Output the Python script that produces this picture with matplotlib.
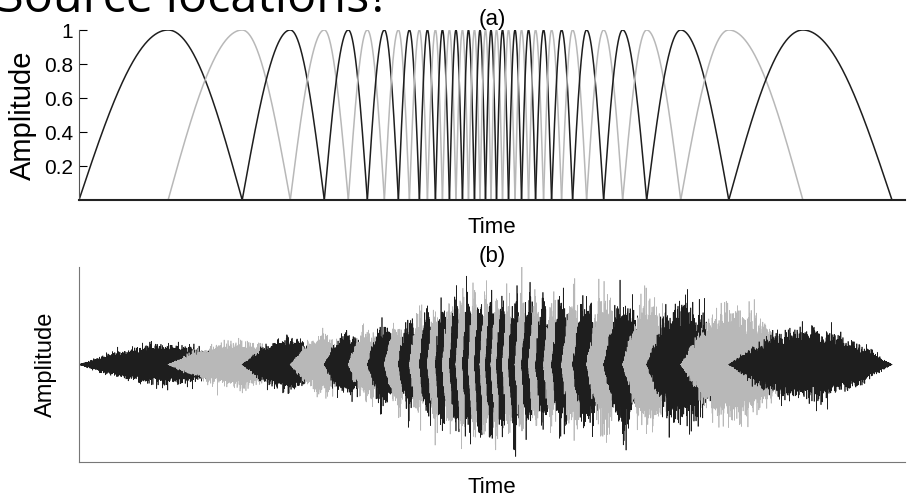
import numpy as np
import matplotlib
matplotlib.use("Agg")
import matplotlib.pyplot as plt

# window edges (time units), left half, mirrored for the right half
edges_left = [0, 89, 163, 211, 245, 269, 288, 305, 319, 330, 340, 348, 356,
              363, 370, 376.5, 383, 389, 395, 400.5, 406]
t_end = 812
edges = edges_left + [t_end - e for e in reversed(edges_left[:-1])]

# peak amplitude of each windowed noise burst in panel (b)
amps = [0.26, 0.30, 0.34, 0.38, 0.42, 0.46, 0.50, 0.56, 0.62, 0.68, 0.74,
        0.80, 0.85, 0.88, 0.92, 0.94, 0.96, 0.98, 0.98, 0.98, 0.98, 0.98,
        0.98, 0.96, 0.95, 0.94, 0.92, 0.90, 0.88, 0.87, 0.86, 0.85, 0.84,
        0.84, 0.82, 0.80, 0.78, 0.72, 0.45]

yticks = [0.2, 0.4, 0.6, 0.8, 1]
ytick_labels = ["0.2", "0.4", "0.6", "0.8", "1"]

col_dark = "#1e1e1e"
col_light = "#b8b8b8"

plt.rcParams["font.family"] = ["Liberation Sans", "DejaVu Sans"]

fig = plt.figure(figsize=(9.14, 4.98), dpi=100)

ax1 = fig.add_axes([79 / 914, 1 - 200 / 498, 826 / 914, 170 / 498])
ax2 = fig.add_axes([79 / 914, 1 - 462 / 498, 826 / 914, 195 / 498])


def window(t, a, b, c):
    w = np.zeros_like(t)
    up = (t >= a) & (t <= b)
    dn = (t > b) & (t <= c)
    w[up] = np.sin(0.5 * np.pi * (t[up] - a) / (b - a))
    w[dn] = np.cos(0.5 * np.pi * (t[dn] - b) / (c - b))
    return w


# carrier components for the noise-like bursts
freqs = [1.37, 2.91, 4.23, 5.77, 7.19, 8.53, 10.07, 11.61, 13.39, 15.13,
         17.03, 19.21, 21.47, 23.83, 26.29]
norm = 3.2 * np.sqrt(len(freqs) / 2)

for k in range(len(edges) - 2):
    a, b, c = edges[k], edges[k + 1], edges[k + 2]
    col = col_dark if k % 2 == 0 else col_light

    # panel (a): the window itself
    t = np.linspace(a, c, 400)
    ax1.plot(t, window(t, a, b, c), color=col, lw=1.1)

    # panel (b): windowed carrier
    n = max(int((c - a) * 60), 200)
    t = np.linspace(a, c, n)
    s = np.zeros_like(t)
    for j, f in enumerate(freqs):
        s += np.sin(2 * np.pi * f * t + 0.7 * (k + 3) * (j + 1) ** 1.5)
    s = s / norm
    ax2.plot(t, amps[k] * window(t, a, b, c) * s, color=col, lw=0.5)

# panel (a) axes
ax1.set_xlim(0, 825)
ax1.set_ylim(0, 1)
ax1.set_yticks(yticks)
ax1.set_yticklabels(ytick_labels, fontsize=15)
ax1.set_xticks([])
ax1.tick_params(axis="y", direction="in", length=6, width=0.8, pad=4)
ax1.spines["top"].set_visible(False)
ax1.spines["right"].set_visible(False)
ax1.spines["left"].set_color("#555555")
ax1.spines["left"].set_linewidth(0.8)
ax1.spines["bottom"].set_color("#222222")
ax1.spines["bottom"].set_linewidth(1.5)
ax1.set_xlabel("Time", fontsize=16, labelpad=12)
ax1.set_ylabel("Amplitude", fontsize=21, labelpad=5)
ax1.set_title("(a)", fontsize=16, pad=3)

# panel (b) axes
ax2.set_xlim(0, 825)
ax2.set_ylim(-1, 1)
ax2.set_xticks([])
ax2.set_yticks([])
ax2.spines["top"].set_visible(False)
ax2.spines["right"].set_visible(False)
ax2.spines["left"].set_color("#777777")
ax2.spines["bottom"].set_color("#777777")
ax2.spines["left"].set_linewidth(0.8)
ax2.spines["bottom"].set_linewidth(0.8)
ax2.set_xlabel("Time", fontsize=16, labelpad=11)
ax2.set_ylabel("Amplitude", fontsize=17, labelpad=16)
ax2.set_title("(b)", fontsize=16, pad=3)

# slide heading cut off at the top edge, as in the source
fig.text(-0.003, 1 - 12 / 498, "Source locations?", fontsize=35,
         family=["Open Sans", "DejaVu Sans"], va="baseline", ha="left")

fig.savefig("out.png", dpi=100)
